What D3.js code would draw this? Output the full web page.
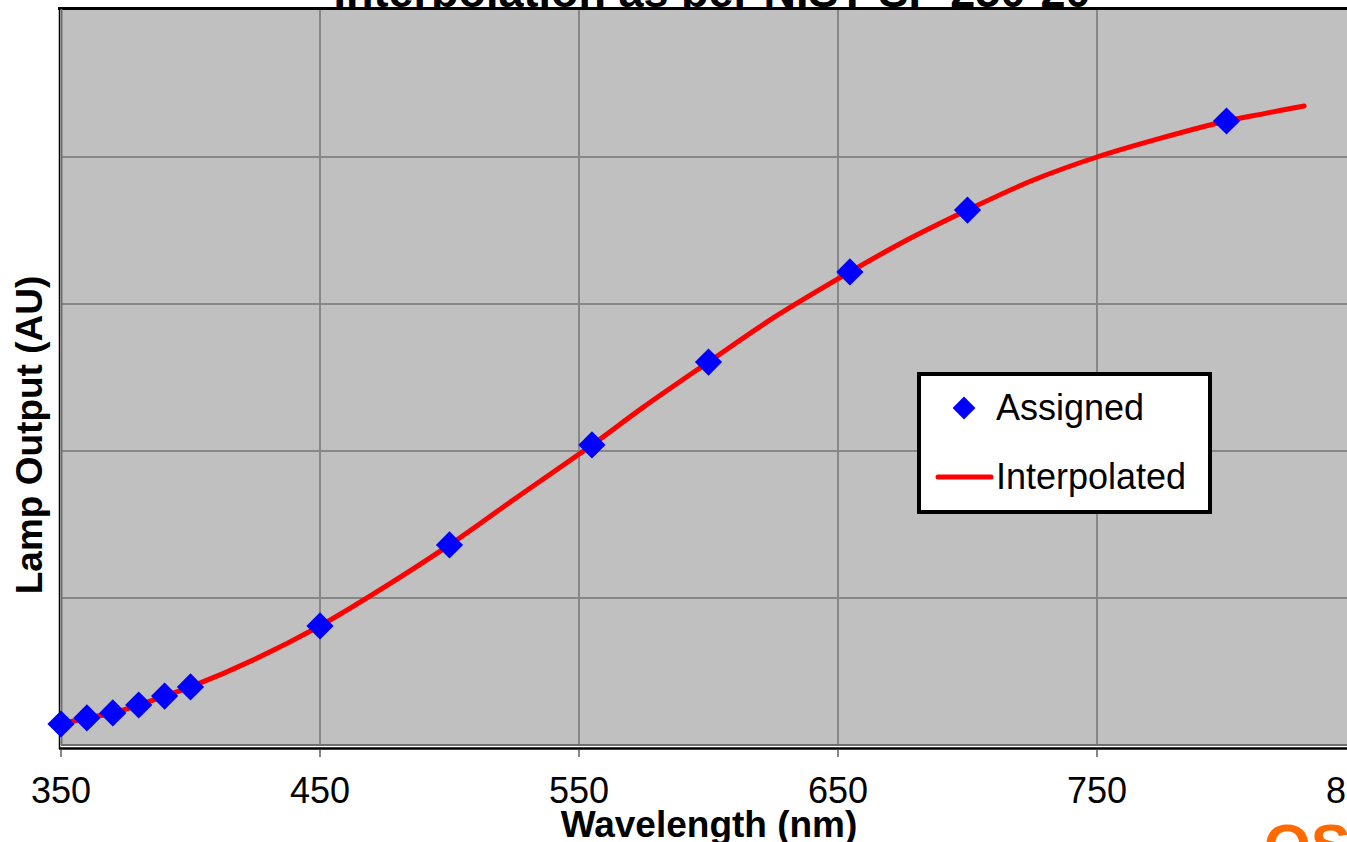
<!DOCTYPE html>
<html>
<head>
<meta charset="utf-8">
<script src="https://cdn.jsdelivr.net/npm/d3@7"></script>
<style>
  body { margin: 0; background: #fff; }
  text { font-family: "Liberation Sans", Arial, sans-serif; }
</style>
</head>
<body>
<div class="center"></div>
<script>
// assigned lamp values (points)
var assignedWl  = [350, 360, 370, 380, 390, 400, 450, 500, 555, 600, 654.6, 700, 800];
var assignedVal = [0.143, 0.184, 0.218, 0.272, 0.333, 0.395, 0.810, 1.361, 2.041, 2.605, 3.218, 3.639, 4.245];

// interpolated curve
var interpWl  = [350, 360, 370, 380, 390, 400, 425, 450, 475, 500, 525, 555, 575, 600, 625, 654.6, 675, 700, 725, 750, 775, 800, 815, 830];
var interpVal = [0.143, 0.184, 0.218, 0.272, 0.333, 0.395, 0.585, 0.810, 1.075, 1.361, 1.672, 2.041, 2.300, 2.605, 2.905, 3.218, 3.420, 3.639, 3.840, 4.000, 4.130, 4.245, 4.297, 4.347];

// axis ticks
var xTicks = [350, 450, 550, 650, 750, 850];
var yTicks = [0, 1, 2, 3, 4, 5];

var legendKeys = ["Assigned", "Interpolated"];

var W = 1347, H = 842;
var margin = {top: 10, left: 61},
    width = 1356 - margin.left,
    height = 745 - margin.top;

var x = d3.scaleLinear().domain([350, 850]).range([0, width]);
var y = d3.scaleLinear().domain([0, 5]).range([height, 0]);

var assigned = assignedWl.map(function(d, i) { return {wl: d, v: assignedVal[i]}; });
var interp = interpWl.map(function(d, i) { return {wl: d, v: interpVal[i]}; });

var svg = d3.select(".center").append("svg")
    .attr("width", W)
    .attr("height", H);

// title (mostly cut off at top)
svg.append("text")
    .attr("x", 712)
    .attr("y", 7)
    .attr("text-anchor", "middle")
    .style("font-weight", "bold")
    .style("font-size", "45px")
    .text("Interpolation as per NIST SP 250-20");

var g = svg.append("g")
    .attr("transform", "translate(" + margin.left + "," + margin.top + ")");

// plot area
g.append("rect")
    .attr("x", 0)
    .attr("y", 0)
    .attr("width", width + 20)
    .attr("height", height + 1)
    .style("fill", "#c0c0c0");

// gridlines
g.selectAll(".hgrid")
    .data(yTicks.slice(1, -1))
    .enter().append("line")
    .attr("x1", 0).attr("x2", width + 20)
    .attr("y1", function(d) { return y(d); })
    .attr("y2", function(d) { return y(d); })
    .style("stroke", "#878787")
    .style("stroke-width", 2);

g.selectAll(".vgrid")
    .data(xTicks.slice(1))
    .enter().append("line")
    .attr("y1", 0).attr("y2", height)
    .attr("x1", function(d) { return x(d); })
    .attr("x2", function(d) { return x(d); })
    .style("stroke", "#878787")
    .style("stroke-width", 2);

// borders
g.append("line")
    .attr("x1", -3).attr("x2", width + 20)
    .attr("y1", -1.5).attr("y2", -1.5)
    .style("stroke", "#000").style("stroke-width", 3);
g.append("line")
    .attr("x1", -1.5).attr("x2", -1.5)
    .attr("y1", -3).attr("y2", height + 4)
    .style("stroke", "#000").style("stroke-width", 1.5);
g.append("line")
    .attr("x1", 0.5).attr("x2", 0.5)
    .attr("y1", -1).attr("y2", height)
    .style("stroke", "#6e6e6e").style("stroke-width", 2);
g.append("line")
    .attr("x1", 0).attr("x2", width + 20)
    .attr("y1", height).attr("y2", height)
    .style("stroke", "#6e6e6e").style("stroke-width", 2);
g.append("line")
    .attr("x1", -2).attr("x2", width + 20)
    .attr("y1", height + 3.5).attr("y2", height + 3.5)
    .style("stroke", "#000").style("stroke-width", 2.5);

// x ticks and labels
g.selectAll(".xtick")
    .data(xTicks)
    .enter().append("line")
    .attr("x1", function(d) { return x(d); })
    .attr("x2", function(d) { return x(d); })
    .attr("y1", height + 5).attr("y2", height + 12)
    .style("stroke", "#878787")
    .style("stroke-width", 2);

g.selectAll(".xlabel")
    .data(xTicks)
    .enter().append("text")
    .attr("x", function(d) { return x(d); })
    .attr("y", height + 58)
    .attr("text-anchor", "middle")
    .style("font-size", "36px")
    .text(function(d) { return d; });

// interpolated line
var valueline = d3.line()
    .curve(d3.curveCatmullRom.alpha(0.5))
    .x(function(d) { return x(d.wl); })
    .y(function(d) { return y(d.v); });

g.append("path")
    .datum(interp)
    .attr("d", valueline)
    .style("fill", "none")
    .style("stroke", "#ff0000")
    .style("stroke-width", 5)
    .style("stroke-linecap", "round");

// assigned points
var diamond = d3.symbol().type(d3.symbolSquare).size(370);
g.selectAll(".dot")
    .data(assigned)
    .enter().append("path")
    .attr("d", diamond)
    .attr("transform", function(d) {
        return "translate(" + x(d.wl) + "," + y(d.v) + ") rotate(45)";
    })
    .style("fill", "#0000ff");

// axis titles
svg.append("text")
    .attr("x", 709)
    .attr("y", 837)
    .attr("text-anchor", "middle")
    .style("font-weight", "bold")
    .style("font-size", "37px")
    .text("Wavelength (nm)");

svg.append("text")
    .attr("transform", "translate(42,435) rotate(-90)")
    .attr("text-anchor", "middle")
    .style("font-weight", "bold")
    .style("font-size", "37px")
    .text("Lamp Output (AU)");

// legend
var lg = svg.append("g").attr("transform", "translate(919,374)");
lg.append("rect")
    .attr("width", 291)
    .attr("height", 138)
    .style("fill", "#fff")
    .style("stroke", "#000")
    .style("stroke-width", 4);

lg.append("path")
    .attr("d", d3.symbol().type(d3.symbolSquare).size(260))
    .attr("transform", "translate(45,34) rotate(45)")
    .style("fill", "#0000ff");
lg.append("line")
    .attr("x1", 19).attr("x2", 72)
    .attr("y1", 103).attr("y2", 103)
    .style("stroke", "#ff0000")
    .style("stroke-width", 5)
    .style("stroke-linecap", "round");

lg.selectAll(".lglabel")
    .data(legendKeys)
    .enter().append("text")
    .attr("x", 77)
    .attr("y", function(d, i) { return 46 + i * 69; })
    .style("font-size", "36px")
    .text(function(d) { return d; });

// partial logo at the bottom right corner
svg.append("text")
    .attr("x", 1264)
    .attr("y", 866)
    .style("font-weight", "bold")
    .style("font-size", "60px")
    .style("fill", "#ff6a00")
    .text("OS");
</script>
</body>
</html>
